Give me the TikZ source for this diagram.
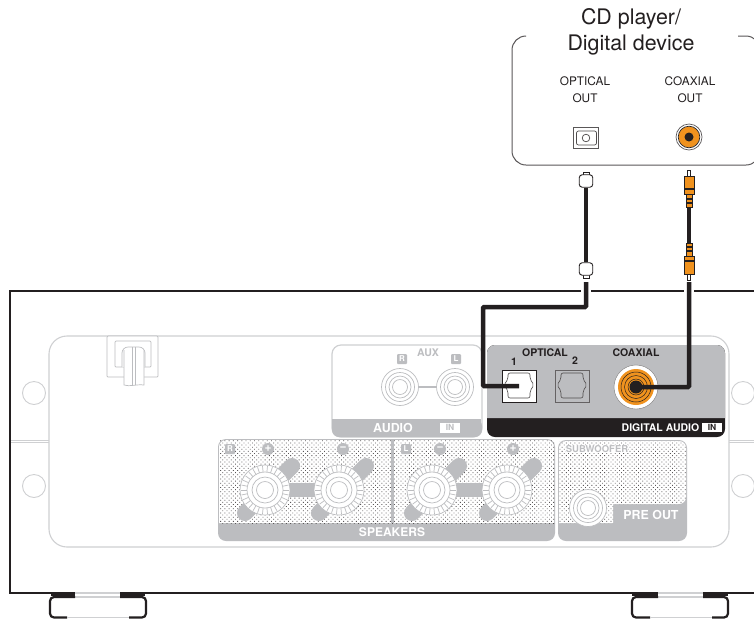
\documentclass[tikz,border=0pt]{standalone}
\usepackage{fontspec}
\setmainfont{TeX Gyre Heros}
\usepackage{xcolor}
\usetikzlibrary{arrows.meta,positioning,patterns.meta}
\definecolor{ink}{HTML}{231F20}
\definecolor{panel}{HTML}{BCBDC0}
\definecolor{soft}{HTML}{CFD0D2}
\definecolor{amber}{HTML}{F0921E}
\begin{document}
\begin{tikzpicture}[
  x=1pt,y=-1pt,
  chassis/.style={draw=ink,line width=2.6pt},
  foot/.style={draw=ink,line width=2.2pt,rounded corners=4pt},
  softline/.style={draw=soft,line width=1.1pt},
  fine/.style={draw=panel,line width=0.7pt},
  cable/.style={draw=ink,line width=4.5pt,rounded corners=1pt},
  hole/.style={circle,draw=soft,line width=0.9pt,minimum size=23pt,inner sep=0pt},
  title/.style={font=\fontsize{21.4}{25}\selectfont,text=ink},
  outlab/.style={font=\fontsize{11.8}{17}\selectfont,text=ink,align=center},
  lab/.style={font=\fontsize{10.5}{12}\selectfont\bfseries,inner sep=0pt},
  whitelab/.style={lab,text=white},
  tag/.style={fill=white,font=\fontsize{8.5}{10}\selectfont\bfseries,text=panel,inner sep=0pt,minimum width=20pt,minimum height=10pt},
  badge/.style={fill=panel,text=white,rounded corners=1pt,font=\fontsize{8}{9}\selectfont\bfseries,inner sep=0pt,minimum size=10pt},
  optplug/.style={draw=ink,fill=white,rounded corners=3pt,line width=0.9pt,minimum width=13.500pt,minimum height=12.500pt,inner sep=0pt},
  coaxplug/.style={draw=ink,fill=amber,line width=0.7pt,minimum width=10pt,minimum height=18pt,inner sep=0pt},
  coaxneck/.style={draw=ink,fill=amber,line width=0.7pt,minimum width=6pt,minimum height=13pt,inner sep=0pt},
  optport/.style={draw=ink!70,line width=0.8pt,minimum width=34pt,minimum height=32pt,inner sep=0pt}
]
\useasboundingbox (0,0) rectangle (754,619);
\fill[white] (0,0) rectangle (754,619);

\draw[draw=ink!75,line width=1pt,rounded corners=14pt] (525,36) -- (512,36) -- (512,165) -- (760,165) -- (760,36) -- (738,36);
\node[title] (cdname) at (631,19) {CD player/};
\node[title] (devname) at (631,45) {Digital device};
\node[outlab] (optout) at (585,90) {OPTICAL\\OUT};
\node[outlab] (coaxout) at (690,90) {COAXIAL\\OUT};
\node[draw=ink!75,fill=white,line width=0.8pt,minimum width=25pt,minimum height=21pt,inner sep=0pt] (optjack) at (586,137.500) {};
\draw[ink!80,line width=0.7pt,rounded corners=2pt] (576.500,131) rectangle (596.500,145);
\draw[ink!80,line width=0.7pt] (586,138) circle (3.800);
\node[circle,draw=ink!75,line width=0.7pt,minimum size=26pt,inner sep=0pt] (coaxjack) at (689,137) {};
\fill[amber] (689,137) circle (10.500);
\draw[ink,line width=0.7pt] (689,137) circle (10.800);
\fill[ink] (689,137) circle (4.500);

\draw[chassis] (75,593) -- (10,593) -- (10,291) -- (581,291);
\draw[chassis] (591,291) -- (684,291);
\draw[chassis] (694,291) -- (754,291);
\draw[chassis] (120,593) -- (658,593);
\draw[chassis] (703,593) -- (754,593);
\draw[line width=3pt,ink] (51,594.500) -- (75,594.500) (120,594.500) -- (145,594.500) (632,594.500) -- (658,594.500) (703,594.500) -- (728,594.500);
\draw[softline] (75,593) -- (120,593) (75,597) -- (120,597) (658,593) -- (703,593) (658,597) -- (703,597);
\draw[foot] (67,617.500) -- (50,617.500) -- (50,597) -- (75,597);
\draw[foot] (120,597) -- (146,597) -- (146,617.500) -- (129,617.500);
\draw[foot] (650,617.500) -- (632,617.500) -- (632,597) -- (658,597);
\draw[foot] (703,597) -- (728,597) -- (728,617.500) -- (712,617.500);
\draw[softline,line width=1.4pt] (67,617.500) -- (129,617.500) (650,617.500) -- (712,617.500);

\draw[softline,rounded corners=18pt] (49,336) rectangle (729,547);
\draw[softline,line width=0.6pt] (11,440) -- (49,440) (11,442.500) -- (49,442.500) (729,440) -- (754,440) (729,442.500) -- (754,442.500);
\foreach \hx/\hy/\hn in {34/393/a,34/486/b,743/393/c,743/486/d}
  \node[hole] (hole\hn) at (\hx,\hy) {};

\draw[fine,fill=white,rounded corners=1pt] (107,336) rectangle (158,377);
\draw[fine,rounded corners=1pt] (115,341) rectangle (151,367);
\draw[fine,fill=white,rounded corners=6pt] (122,367) -- (122,347) -- (145,347) -- (145,367);
\draw[fine,fill=white] (124,350) -- (124,385) .. controls (130,387) and (136,384) .. (144,385) -- (144,350);
\draw[fine] (132.500,347) -- (132.500,385) (135,347) -- (135,385);

\draw[softline,line width=1.2pt,rounded corners=9pt,fill=white] (332,345) rectangle (482,437);
\fill[panel,rounded corners=7pt] (332,419) -- (332,437) -- (482,437) -- (482,419) [sharp corners] -- cycle;
\fill[panel] (333,419) rectangle (481,428);
\node[lab,text=panel] (auxname) at (428,353) {AUX};
\node[badge] (auxr) at (402,359) {R};
\node[badge] (auxl) at (456,359) {L};
\draw[panel,line width=2.4pt] (410,387) -- (447,387);
\foreach \jx in {400,455} {
  \draw[fine,fill=white] (\jx,387) circle (18.500);
  \foreach \jr in {14.500,11,7.500}
    \draw[fine] (\jx,387) circle (\jr);
}
\node[whitelab,font=\fontsize{12.4}{14}\selectfont\bfseries] (audioname) at (393,427.500) {AUDIO};
\node[tag] (audioin) at (450,427.500) {IN};

\fill[ink,rounded corners=8pt] (487,345) rectangle (725,437);
\fill[panel] (487,418) [rounded corners=8pt] -- (487,345) -- (725,345) [sharp corners] -- (725,418) -- cycle;
\node[lab,text=ink] (optname) at (545,353) {OPTICAL};
\node[lab,text=ink] (one) at (514,362) {1};
\node[lab,text=ink] (two) at (575,361) {2};
\node[lab,text=ink] (coaxname) at (636,353) {COAXIAL};
\node[optport,draw=ink,fill=white] (optin) at (519,386) {};
\node[optport] (opttwo) at (572,386) {};
\foreach \px in {519,572}
  \draw[ink!80,line width=0.6pt,rounded corners=2pt] (\px-11,373) -- (\px+11,373) -- (\px+11,379) -- (\px+15,385) -- (\px+11,391) -- (\px+11,398) -- (\px-11,398) -- (\px-11,391) -- (\px-15,385) -- (\px-11,379) -- cycle;
\node[circle,fill=white,draw=ink!60,line width=0.4pt,minimum size=44pt,inner sep=0pt] (coaxin) at (636,387) {};
\fill[amber] (636,387) circle (18);
\foreach \cr in {15,11.500,8}
  \draw[ink,line width=0.5pt] (636,387) circle (\cr);
\node[whitelab] (digname) at (660.500,427.500) {DIGITAL AUDIO};
\node[fill=white,font=\fontsize{8.5}{10}\selectfont\bfseries,text=ink,inner sep=0pt,minimum width=20pt,minimum height=9pt] (digin) at (712,427.500) {IN};

\fill[panel,rounded corners=8pt] (218,439) rectangle (555,541);
\fill[white,rounded corners=7pt] (219,440) -- (554,440) [sharp corners] -- (554,523) -- (219,523) [rounded corners=7pt] -- cycle;
\fill[pattern={Dots[distance=3pt,radius=0.6pt,angle=45]},pattern color=ink!75] (219,440) rectangle (554,523);
\fill[panel] (390.500,440) rectangle (393.500,523);
\node[whitelab,font=\fontsize{12}{14}\selectfont\bfseries] (spkname) at (392,532) {SPEAKERS};
\node[badge] (spkr) at (230,449) {R};
\node[badge] (spkl) at (406,449) {L};
\foreach \bx/\by in {265/339,432/507}
  \fill[panel] (\bx,483) rectangle (\by,497);
\foreach \sx/\sn/\sg in {268/a/+,343/b/−,440/c/−,513/d/+}
  \node[circle,fill=panel,text=white,minimum size=12pt,inner sep=0pt,font=\fontsize{12}{12}\selectfont\bfseries] (sign\sn) at (\sx,449) {\sg};
\foreach \jx in {265,339,432,507} {
  \draw[panel,line width=16pt,line cap=round] (\jx-20,513) -- (\jx+27,466);
  \draw[fine,fill=white] (\jx,490) circle (25);
  \foreach \ka in {0,12,...,348}
    \draw[fine] (\jx,490) ++(\ka:18) -- ++(\ka:6);
  \foreach \jr in {18,13,8.500}
    \draw[fine] (\jx,490) circle (\jr);
}

\fill[panel,rounded corners=8pt] (558,440) rectangle (687,541);
\fill[white,rounded corners=7pt] (559,441) -- (686,441) -- (686,504) [sharp corners] -- (613,504) -- (613,523) -- (559,523) [rounded corners=7pt] -- cycle;
\fill[pattern={Dots[distance=3pt,radius=0.6pt,angle=45]},pattern color=ink!75,rounded corners=6pt] (559,441) -- (686,441) -- (686,504) [sharp corners] -- (613,504) -- (613,523) -- (559,523) -- cycle;
\node[lab,fill=white,text=panel,font=\fontsize{9.5}{11}\selectfont\bfseries] (subname) at (597,449) {SUBWOOFER};
\draw[fine,fill=white] (588,508) circle (18.500);
\foreach \jr in {14.500,11,7.500}
  \draw[fine] (588,508) circle (\jr);
\node[whitelab,font=\fontsize{12.4}{14}\selectfont\bfseries] (prename) at (651,514.500) {PRE OUT};

\draw[ink,fill=white,line width=0.8pt] (583,176) -- (583,172.500) -- (589,172.500) -- (589,176);
\draw[ink,fill=white,line width=0.8pt] (583,274) -- (583,278.500) -- (589,278.500) -- (589,274);
\node[optplug] (optplugA) at (586,181) {};
\node[optplug] (optplugB) at (586,269) {};
\draw[cable] (optplugA) -- (optplugB);
\coordinate (optstart) at (586,282);
\draw[cable] (optstart) -- (586,307) -- (483,307) -- (483,386) -- (optin.center);

\draw[ink,fill=white,line width=0.6pt] (687.500,176) -- (687.500,170) -- (690.500,170) -- (690.500,176);
\draw[ink,fill=white,line width=0.6pt] (687.500,274) -- (687.500,280) -- (690.500,280) -- (690.500,274);
\node[coaxplug] (coaxplugA) at (689,185) {};
\node[coaxneck] (coaxneckA) at (689,200.500) {};
\node[coaxneck] (coaxneckB) at (689,249.500) {};
\node[coaxplug] (coaxplugB) at (689,265) {};
\draw[cable] (coaxneckA) -- (coaxneckB);
\draw[ink,line width=1.6pt] (684.500,189) -- (693.500,189) (686.500,199) -- (691.500,199) (686.500,203) -- (691.500,203) (686.500,247) -- (691.500,247) (686.500,251) -- (691.500,251) (684.500,261) -- (693.500,261);
\coordinate (coaxstart) at (689,282);
\draw[cable] (coaxstart) -- (689,387) -- (coaxin.center);
\fill[ink] (636,387) circle (6.500);
\end{tikzpicture}
\end{document}
